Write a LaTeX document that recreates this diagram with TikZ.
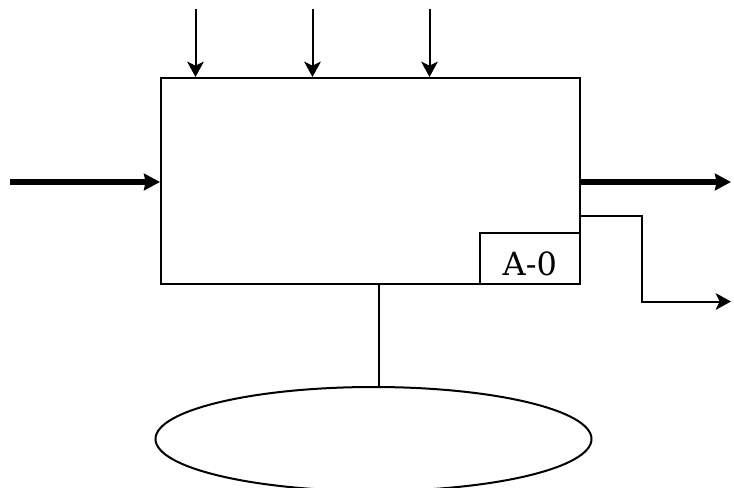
\documentclass[tikz,border=0pt]{standalone}
\usepackage{fontspec}
\setmainfont{DejaVu Serif}
\usetikzlibrary{arrows.meta,shapes.geometric}
\tikzset{
  wire/.style={draw=black,line width=1.5pt},
  headtip/.style={-{Stealth[length=11.5pt,width=12.5pt,inset=3pt]}},
  flow/.style={wire,headtip},
  thickflow/.style={draw=black,line width=4pt,-{Stealth[length=12pt,width=12.5pt,inset=1.2pt]}},
  box/.style={draw=black,line width=1.5pt,fill=white,inner sep=0pt},
}
\begin{document}
\begin{tikzpicture}[x=0.75pt,y=-0.75pt]
\path[use as bounding box] (0,0) rectangle (734,488);
\begin{scope}
\clip (0,0) rectangle (734,488);
\node[box,ellipse,minimum width=327pt,minimum height=78pt] (store) at (373.5,439) {};
\end{scope}
\node[box,rectangle,minimum width=314.25pt,minimum height=154.5pt] (main) at (370.5,181) {};
\node[box,rectangle,minimum width=75.4pt,minimum height=38.25pt,font=\fontsize{24pt}{26pt}\selectfont] (tag) at (529.8,258.5) {\raisebox{-13pt}[0pt][0pt]{A-0}};
\coordinate (c1) at (195.5,9);
\coordinate (c2) at (312.5,9);
\coordinate (c3) at (429.5,9);
\coordinate (in) at (10,182);
\coordinate (o1) at (731,182);
\coordinate (o2) at (731,301.5);
\draw[flow] (c1) -- (c1 |- main.north);
\draw[flow] (c2) -- (c2 |- main.north);
\draw[flow] (c3) -- (c3 |- main.north);
\draw[thickflow] (in) -- (in -| main.west);
\draw[thickflow] (main.east |- o1) -- (o1);
\draw[flow] (main.east |- 0,216) -| (642,301.5) -- (o2);
\draw[wire] (379,284) -- (379,387.5);
\end{tikzpicture}
\end{document}
